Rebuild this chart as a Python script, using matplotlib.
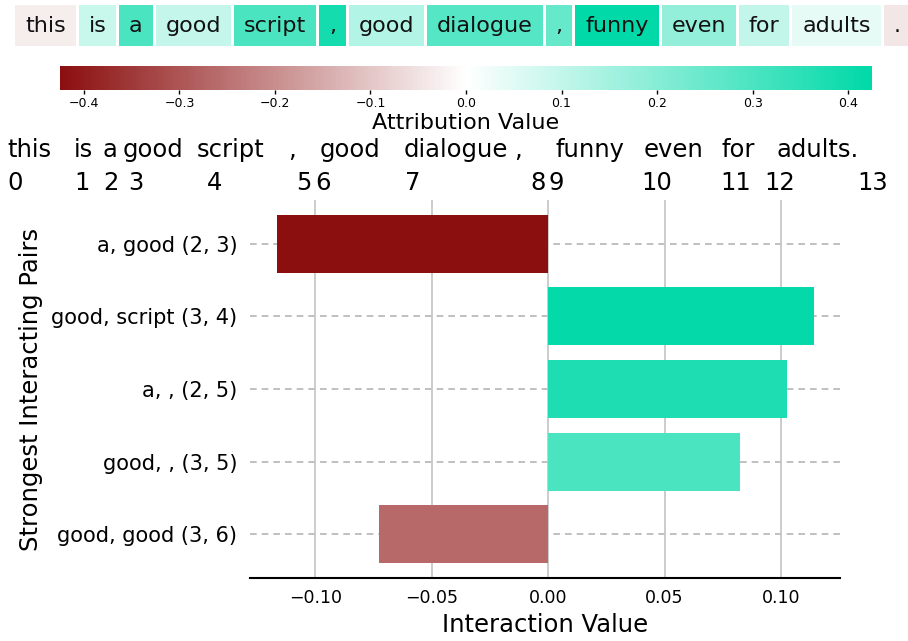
import matplotlib
matplotlib.use('Agg')
import matplotlib.pyplot as plt
from matplotlib.colors import LinearSegmentedColormap, Normalize
from matplotlib.patches import Rectangle
import matplotlib.colorbar as mcolorbar

# token attributions (top strip)
tokens = ["this", "is", "a", "good", "script", ",", "good", "dialogue", ",",
          "funny", "even", "for", "adults", "."]
token_attr = [-0.03, 0.092, 0.30, 0.097, 0.30, 0.39, 0.127, 0.283, 0.253,
              0.42, 0.178, 0.10, 0.04, -0.045]

# sentence words shown above the bar chart, with token indices
sentence_words = ["this", "is", "a", "good", "script", ",", "good", "dialogue",
                  ",", "funny", "even", "for", "adults."]
token_index = list(range(14))

# interaction pairs
pairs = ["a, good (2, 3)", "good, script (3, 4)", "a, , (2, 5)",
         "good, , (3, 5)", "good, good (3, 6)"]
interaction = [-0.1163, 0.1142, 0.1026, 0.0824, -0.0725]

W, H = 908, 641
cmap = LinearSegmentedColormap.from_list("rw_teal", ["#8b0f0f", "#ffffff", "#00d9a8"])
attr_norm = Normalize(-0.425, 0.425)

fig = plt.figure(figsize=(W / 100, H / 100), dpi=100)

# full-figure overlay in pixel coordinates
over = fig.add_axes([0, 0, 1, 1], zorder=-1)
over.set_xlim(0, W)
over.set_ylim(H, 0)
over.axis('off')

# token boxes, sized from the text width
fig.canvas.draw()
renderer = fig.canvas.get_renderer()
x = 15
pad, gap = 9.9, 3
for tok, val in zip(tokens, token_attr):
    t = over.text(0, 25.5, tok, fontsize=16, ha='left', va='center', color='#111111')
    bb = t.get_window_extent(renderer)
    w = bb.width + 2 * pad
    t.set_x(x + pad)
    over.add_patch(Rectangle((x, 5), w, 40.5, color=cmap(attr_norm(val)), lw=0, zorder=0))
    x += w + gap

# sentence row and index row above the bar chart
word_x = [7, 74, 103, 123, 197, 288, 320, 404, 514, 556, 644, 721, 776]
for wx, wd in zip(word_x, sentence_words):
    over.text(wx, 150, wd, fontsize=17.5, ha='left', va='center', color='black')
num_x = [7, 74, 103, 128, 207, 296, 315, 405, 530, 549, 641, 720, 764, 857]
for nx, idx in zip(num_x, token_index):
    over.text(nx, 183, str(idx), fontsize=17.5, ha='left', va='center', color='black')

# colorbar
cax = fig.add_axes([60 / W, 1 - 90 / H, 812 / W, 24 / H])
cb = mcolorbar.ColorbarBase(cax, cmap=cmap, norm=attr_norm, orientation='horizontal',
                            ticks=[-0.4, -0.3, -0.2, -0.1, 0.0, 0.1, 0.2, 0.3, 0.4])
cb.outline.set_visible(False)
cax.tick_params(labelsize=9, length=3, width=1, pad=2)
cb.set_label("Attribution Value", fontsize=16, labelpad=2)

# bar chart
ax = fig.add_axes([250 / W, 1 - 578 / H, 590 / W, 378 / H])
vmax = max(abs(v) for v in interaction)
bar_norm = Normalize(-vmax, vmax)
ypos = list(range(len(pairs)))
for y in ypos:
    ax.axhline(y, color='#b5b5b5', ls=(0, (4, 3)), lw=1.2, zorder=0)
ax.barh(ypos, interaction, height=0.8, color=[cmap(bar_norm(v)) for v in interaction], zorder=2)
ax.set_ylim(len(pairs) - 0.4, -0.6)
ax.set_xlim(-0.128, 0.1253)
ax.set_xticks([-0.10, -0.05, 0.0, 0.05, 0.10])
ax.set_xticklabels(["\u22120.10", "\u22120.05", "0.00", "0.05", "0.10"])
ax.set_yticks(ypos)
ax.set_yticklabels(pairs)
ax.grid(True, axis='x', color='#c4c4c4', lw=1.2, zorder=1)
ax.set_axisbelow(True)
for s in ['left', 'top', 'right']:
    ax.spines[s].set_visible(False)
ax.spines['bottom'].set_linewidth(1.5)
ax.tick_params(axis='y', length=0, labelsize=15, pad=9)
ax.tick_params(axis='x', length=0, labelsize=12.5, pad=8)
ax.set_xlabel("Interaction Value", fontsize=17.5, labelpad=4)
ax.set_ylabel("Strongest Interacting Pairs", fontsize=17.5, labelpad=6)

fig.savefig("out.png", dpi=100)
